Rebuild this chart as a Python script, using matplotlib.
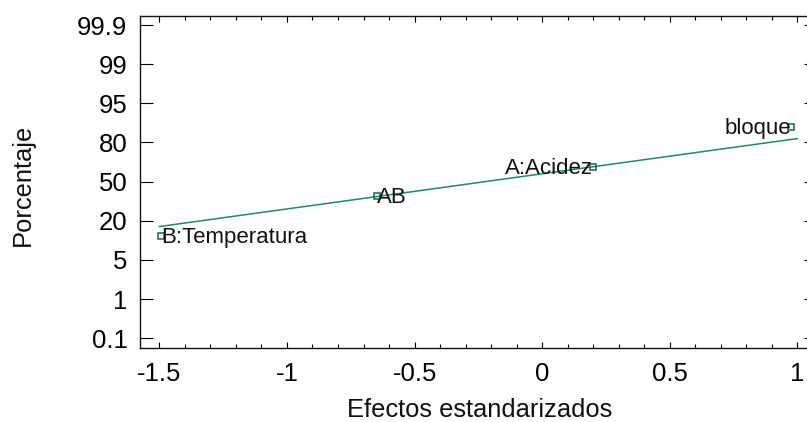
"""
Normal probability plot of standardized effects.
"""
from statistics import NormalDist

import numpy as np
import matplotlib
matplotlib.use("Agg")
import matplotlib.pyplot as plt
from matplotlib.ticker import MultipleLocator

# effects and their plotting positions (percent)
effect_names = ["B:Temperatura", "AB", "A:Acidez", "bloque"]
effect_values = [-1.493, -0.649, 0.198, 0.976]
effect_pct = [12.5, 37.5, 62.5, 87.5]

# probability axis labels
pct_ticks = [0.1, 1, 5, 20, 50, 80, 95, 99, 99.9]
pct_labels = ["0.1", "1", "5", "20", "50", "80", "95", "99", "99.9"]

_nd = NormalDist()
_inv_cdf = np.vectorize(_nd.inv_cdf, otypes=[float])
_cdf = np.vectorize(_nd.cdf, otypes=[float])
_tick_z = _inv_cdf(np.array(pct_ticks) / 100.0)
_tick_idx = np.arange(len(pct_ticks), dtype=float)


def _interp_ext(x, xp, fp):
    x = np.asarray(x, dtype=float)
    y = np.interp(x, xp, fp)
    lo_slope = (fp[1] - fp[0]) / (xp[1] - xp[0])
    hi_slope = (fp[-1] - fp[-2]) / (xp[-1] - xp[-2])
    y = np.where(x < xp[0], fp[0] + (x - xp[0]) * lo_slope, y)
    y = np.where(x > xp[-1], fp[-1] + (x - xp[-1]) * hi_slope, y)
    return y


def _pct_to_z(p):
    p = np.clip(np.asarray(p, dtype=float) / 100.0, 1e-9, 1 - 1e-9)
    return _inv_cdf(p)


def _z_to_pct(z):
    return _cdf(np.asarray(z, dtype=float)) * 100.0


def prob_forward(p):
    return _interp_ext(_pct_to_z(p), _tick_z, _tick_idx)


def prob_inverse(idx):
    return _z_to_pct(_interp_ext(idx, _tick_idx, _tick_z))


plt.rcParams["font.family"] = ["Liberation Sans", "DejaVu Sans"]

fig = plt.figure(figsize=(8.07, 4.22), dpi=100)
W, H = 807.0, 422.0
ax = fig.add_axes([140 / W, 1 - 348.3 / H, (815.7 - 140) / W, (348.3 - 16) / H])
ax.set_yscale("function", functions=(prob_forward, prob_inverse))

# reference line through the two middle effects (in normal-score space)
z_pts = _pct_to_z(effect_pct)
slope = (z_pts[2] - z_pts[1]) / (effect_values[2] - effect_values[1])
icpt = z_pts[1] - slope * effect_values[1]
line_x = np.array([-1.5, 1.0])
ax.plot(line_x, _z_to_pct(icpt + slope * line_x), color="#1e8c5c", lw=1.1, zorder=2)

ax.plot(effect_values, effect_pct, "s", ms=4, mfc="none", mec="#17625c", mew=1.1,
        zorder=3)

aligns = ["left", "left", "right", "right"]
for name, xv, pv, ha in zip(effect_names, effect_values, effect_pct, aligns):
    ax.annotate(name, (xv, pv), xytext=(0, -1), textcoords="offset points",
                ha=ha, va="center", fontsize=16, color="#111111", zorder=4)

ax.set_xlim(-1.576, 1.072)
ax.set_ylim(float(prob_inverse(-0.255)), float(prob_inverse(8.23)))
ax.set_yticks(pct_ticks)
ax.set_yticklabels(pct_labels)
ax.yaxis.set_minor_locator(plt.NullLocator())
ax.xaxis.set_minor_locator(MultipleLocator(0.1))
ax.set_xticks([-1.5, -1, -0.5, 0, 0.5, 1])
ax.set_xticklabels(["-1.5", "-1", "-0.5", "0", "0.5", "1"])

ax.tick_params(axis="y", which="major", direction="in", length=9, width=0.8,
               left=True, right=True, labelsize=18.5, pad=9)
ax.tick_params(axis="x", which="major", direction="in", length=4.3, width=0.8,
               top=True, bottom=True, labelsize=18.5, pad=10)
ax.tick_params(axis="x", which="minor", direction="in", length=3, width=0.8,
               top=True, bottom=True)
for sp in ax.spines.values():
    sp.set_linewidth(1.0)
    sp.set_color("#111111")

fig.text(480 / W, 1 - 410 / H, "Efectos estandarizados", ha="center", va="center",
         fontsize=18.4, color="#111111")
fig.text(23 / W, 1 - 185 / H, "Porcentaje", ha="center", va="center",
         rotation=90, fontsize=18.4, color="#111111")

fig.savefig("out.png", dpi=100)
